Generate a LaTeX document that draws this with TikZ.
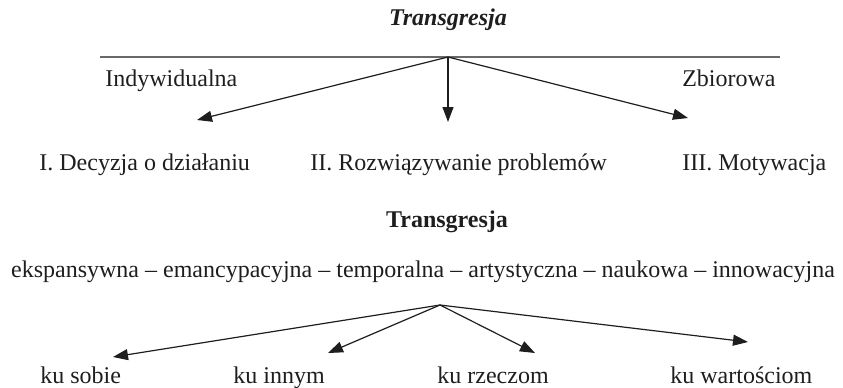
\documentclass[tikz,border=0pt]{standalone}
\usepackage{fontspec}
\setmainfont{Liberation Serif}
\usepackage{xcolor}
\usetikzlibrary{positioning, arrows.meta}
\definecolor{bargray}{RGB}{105,105,105}
\definecolor{inkblack}{RGB}{30,30,30}

\begin{document}
\begin{tikzpicture}[x=0.5pt, y=-0.5pt,
  txt/.style={inner sep=0pt, font=\fontsize{12}{14}\selectfont, text=inkblack},
  head/.style={txt, font=\fontsize{12}{14}\selectfont\bfseries},
  arr/.style={-{Triangle[length=7.5pt, width=5.5pt]}, line width=0.6pt, color=inkblack},
  bar/.style={line width=1pt, color=bargray}]
  \useasboundingbox (0,0) rectangle (843,387);
  \node[head, anchor=base, font=\fontsize{12}{14}\selectfont\bfseries\itshape] (title) at (448,25) {Transgresja};
  \coordinate (barleft) at (100,57);
  \coordinate (barright) at (780,57);
  \coordinate (top) at (448,57);
  \draw[bar] (barleft) -- (barright);
  \node[txt, anchor=base west] (indiv) at (105,86) {Indywidualna};
  \node[txt, anchor=base east] (group) at (776,86) {Zbiorowa};
  \coordinate (tipa) at (197,120);
  \coordinate (tipb) at (448,122);
  \coordinate (tipc) at (688,118);
  \draw[arr] (top) -- (tipa);
  \draw[arr] (top) -- (tipb);
  \draw[arr] (top) -- (tipc);
  \node[txt, anchor=base west] (decision) at (39,170) {I. Decyzja o działaniu};
  \node[txt, anchor=base west] (solving) at (310,170) {II. Rozwiązywanie problemów};
  \node[txt, anchor=base west] (motive) at (682,170) {III. Motywacja};
  \node[head, anchor=base] (kinds) at (447,227) {Transgresja};
  \node[txt, anchor=base] (list) at (423,277) {ekspansywna – emancypacyjna – temporalna – artystyczna – naukowa – innowacyjna};
  \coordinate (fork) at (440,305);
  \node[txt, anchor=base west] (self) at (40,383) {ku sobie};
  \node[txt, anchor=base west] (others) at (233,383) {ku innym};
  \node[txt, anchor=base west] (things) at (437,383) {ku rzeczom};
  \node[txt, anchor=base west] (values) at (670,383) {ku wartościom};
  \coordinate (tipd) at (113,357);
  \coordinate (tipe) at (328,353);
  \coordinate (tipf) at (535,353);
  \coordinate (tipg) at (748,342);
  \draw[arr] (fork) -- (tipd);
  \draw[arr] (fork) -- (tipe);
  \draw[arr] (fork) -- (tipf);
  \draw[arr] (fork) -- (tipg);
\end{tikzpicture}
\end{document}
